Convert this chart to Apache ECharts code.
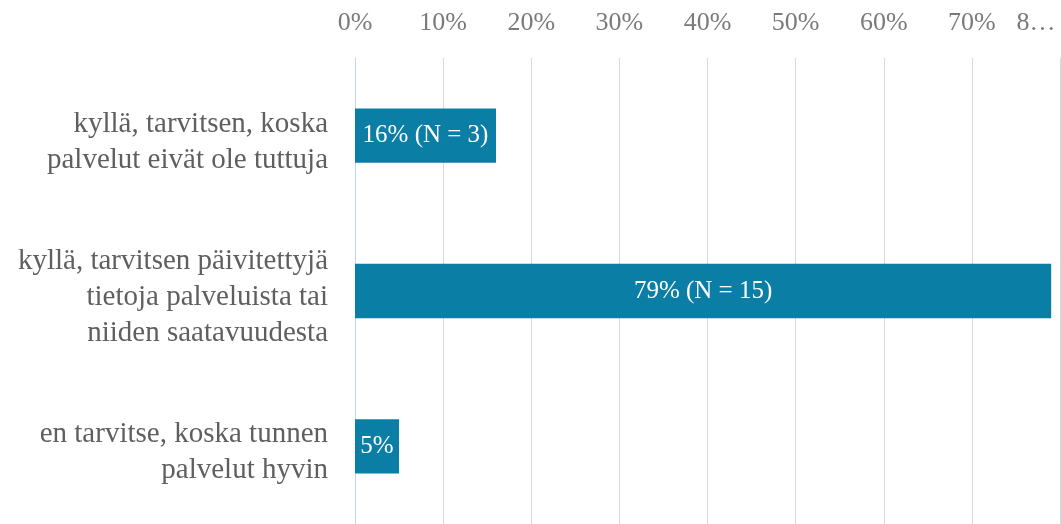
<!DOCTYPE html>
<html>
<head>
<meta charset="utf-8">
<script src="https://cdn.jsdelivr.net/npm/echarts@6/dist/echarts.min.js"></script>
<style>
html,body{margin:0;padding:0;background:#fff;}
#chart{width:1061px;height:524px;}
</style>
</head>
<body>
<div id="chart"></div>
<script>
var categories = [
  'kyllä, tarvitsen, koska\npalvelut eivät ole tuttuja',
  'kyllä, tarvitsen päivitettyjä\ntietoja palveluista tai\nniiden saatavuudesta',
  'en tarvitse, koska tunnen\npalvelut hyvin'
];
var percents = [16, 79, 5];
var counts = [3, 15, null];
var tickLabels = ['0%', '10%', '20%', '30%', '40%', '50%', '60%', '70%', '8…'];

var serif = '"Liberation Serif", "DejaVu Serif", serif';
var chart = echarts.init(document.getElementById('chart'));
chart.setOption({
  animation: false,
  grid: { left: 355, right: 1, top: 58, bottom: -4, containLabel: false },
  xAxis: {
    type: 'value', position: 'top', min: 0, max: 80, interval: 10,
    axisLine: { show: false }, axisTick: { show: false },
    splitLine: { show: true, lineStyle: { color: '#d9d9d9', width: 1 } },
    axisLabel: {
      margin: 22, color: '#7a7a7a', fontFamily: serif, fontSize: 26,
      formatter: function (v) {
        var lab = tickLabels[Math.round(v / 10)];
        if (v === 80) return '{r|' + lab + '}';
        return lab;
      },
      rich: { r: { color: '#7a7a7a', fontFamily: serif, fontSize: 26, padding: [0, 48, 0, 0] } }
    }
  },
  yAxis: {
    type: 'category', inverse: true, data: categories,
    axisLine: { show: true, lineStyle: { color: '#c6d3ea', width: 1 } },
    axisTick: { show: false },
    axisLabel: {
      margin: 27, color: '#5f5f5f', fontFamily: serif, fontSize: 29, lineHeight: 36, align: 'right',
      formatter: function (v) { return '{s| }\n' + v; },
      rich: { s: { fontSize: 1, lineHeight: 13 } }
    }
  },
  series: [{
    type: 'bar', data: percents, barCategoryGap: '65%',
    itemStyle: { color: '#0b7ea6' },
    label: {
      show: true, position: 'inside', color: '#ffffff', fontFamily: serif, fontSize: 25,
      formatter: function (p) {
        var n = counts[p.dataIndex];
        return p.value + '%' + (n != null ? ' (N = ' + n + ')' : '');
      }
    }
  }]
});
</script>
</body>
</html>
